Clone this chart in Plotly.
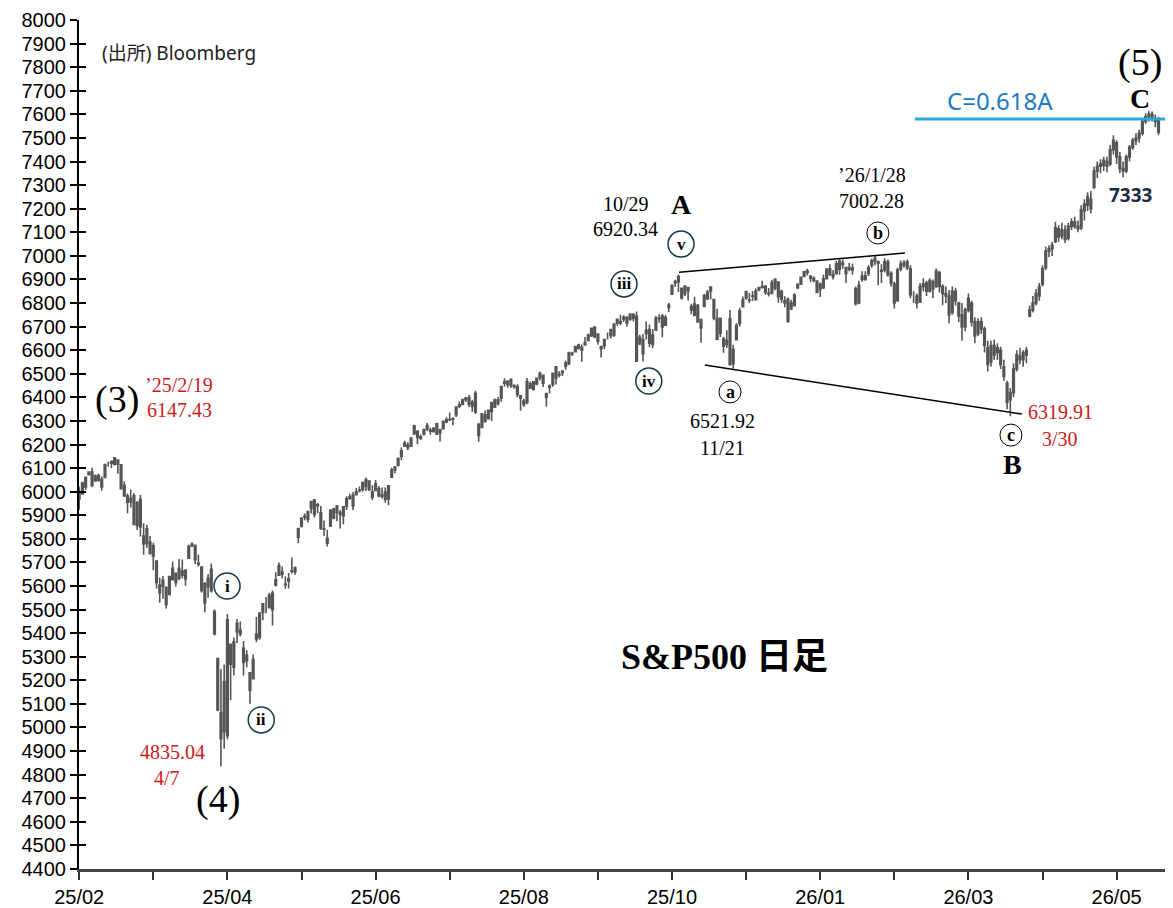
import plotly.graph_objects as go

# S&P500 daily bars, one value per trading day (2025/02/03 .. 2026/06)
opens = [
    # 2025/02
    5969, 5990, 6020, 6072, 6083, 6046, 6049, 6020, 6060, 6115, 6121, 6117, 6134, 6114, 6026, 5982, 5971, 5983, 5857,
    # 2025/03
    5968, 5812, 5781, 5786, 5726, 5706, 5604, 5624, 5594, 5564, 5627, 5654, 5632, 5646, 5630, 5718, 5771, 5772, 5696, 5679, 5528,
    # 2025/04
    5597, 5580, 5492, 5292, 4953, 5194, 4965, 5353, 5256, 5442, 5412, 5336, 5306, 5232, 5207, 5395, 5382, 5489, 5529, 5508, 5499,
    # 2025/05
    5626, 5646, 5659, 5606, 5621, 5663, 5677, 5807, 5854, 5896, 5883, 5929, 5903, 5944, 5910, 5841, 5782, 5855, 5926, 5939, 5903,
    # 2025/06
    5897, 5938, 5978, 5985, 5987, 6005, 6009, 6050, 6010, 5999, 6005, 6012, 5987, 5999, 5969, 6061, 6104, 6112, 6151, 6193,
    # 2025/07
    6187, 6193, 6246, 6255, 6233, 6245, 6266, 6256, 6255, 6288, 6250, 6269, 6305, 6305, 6307, 6326, 6368, 6370, 6397, 6398, 6379, 6417,
    # 2025/08
    6287, 6272, 6326, 6309, 6378, 6359, 6390, 6397, 6460, 6455, 6475, 6445, 6446, 6407, 6384, 6378, 6457, 6434, 6457, 6483, 6494,
    # 2025/09
    6401, 6443, 6456, 6529, 6498, 6506, 6545, 6543, 6587, 6594, 6622, 6612, 6623, 6641, 6662, 6698, 6669, 6615, 6619, 6661, 6661,
    # 2025/10
    6663, 6731, 6722, 6733, 6740, 6729, 6751, 6744, 6628, 6585, 6684, 6688, 6624, 6685, 6736, 6745, 6706, 6781, 6838, 6885, 6911, 6863, 6872,
    # 2025/11
    6866, 6785, 6747, 6789, 6694, 6786, 6818, 6868, 6815, 6647, 6735, 6647, 6625, 6733, 6543, 6645, 6712, 6785, 6822,
    # 2025/12
    6813, 6830, 6815, 6866, 6866, 6872, 6841, 6843, 6863, 6889, 6850, 6809, 6816, 6800, 6789, 6865, 6880, 6913, 6936, 6913, 6905, 6893,
    # 2026/01
    6880, 6865, 6903, 6945, 6912, 6925, 6944, 6970, 6950, 6950, 6948, 6860, 6800, 6900, 6900, 6925, 6960, 6990, 6975, 6935,
    # 2026/02
    6940, 6975, 6925, 6880, 6810, 6945, 6960, 6975, 6945, 6830, 6830, 6805, 6870, 6885, 6850, 6890, 6870, 6930, 6870,
    # 2026/03
    6840, 6830, 6760, 6850, 6800, 6750, 6700, 6770, 6800, 6720, 6670, 6720, 6690, 6610, 6550, 6620, 6590, 6600, 6530, 6460, 6390, 6420,
    # 2026/04
    6520, 6575, 6560, 6580, 6745, 6770, 6800, 6830, 6880, 6950, 7020, 7030, 7060, 7115, 7085, 7110, 7075, 7125, 7145, 7125, 7120,
    # 2026/05 - 06
    7190, 7215, 7240, 7290, 7360, 7380, 7385, 7400, 7390, 7450, 7480, 7420, 7370, 7360, 7420, 7460, 7490, 7500, 7520, 7570,
    7590, 7600, 7580, 7575,
]

highs = [
    6022, 6042, 6062, 6084, 6101, 6073, 6076, 6064, 6117, 6127, 6129, 6147, 6134, 6115, 6044, 5992, 6009, 5994, 5959,
    5986, 5866, 5860, 5812, 5783, 5706, 5636, 5642, 5597, 5645, 5704, 5654, 5715, 5712, 5670, 5775, 5786, 5776, 5733, 5685, 5616,
    5651, 5695, 5500, 5292, 5247, 5267, 5481, 5353, 5382, 5460, 5450, 5367, 5328, 5233, 5310, 5469, 5489, 5528, 5553, 5571, 5581,
    5658, 5700, 5683, 5641, 5655, 5721, 5683, 5845, 5893, 5907, 5917, 5959, 5969, 5953, 5939, 5878, 5839, 5925, 5931, 5944, 5922,
    5937, 5981, 5991, 5999, 6016, 6022, 6043, 6060, 6045, 6027, 6050, 6024, 6018, 6018, 6028, 6101, 6109, 6146, 6187, 6216,
    6210, 6227, 6284, 6262, 6243, 6265, 6291, 6272, 6273, 6292, 6266, 6302, 6316, 6336, 6316, 6360, 6382, 6395, 6402, 6410, 6390, 6428,
    6288, 6330, 6344, 6349, 6379, 6395, 6402, 6446, 6481, 6472, 6481, 6456, 6456, 6407, 6394, 6482, 6466, 6468, 6483, 6509, 6494,
    6416, 6455, 6502, 6533, 6511, 6513, 6555, 6593, 6593, 6619, 6627, 6624, 6656, 6671, 6694, 6700, 6670, 6618, 6650, 6675, 6689,
    6712, 6731, 6750, 6748, 6744, 6754, 6757, 6764, 6666, 6669, 6722, 6709, 6690, 6745, 6752, 6754, 6749, 6800, 6876, 6899, 6920, 6864, 6874,
    6866, 6797, 6827, 6796, 6734, 6838, 6855, 6870, 6815, 6776, 6737, 6657, 6685, 6770, 6623, 6714, 6780, 6828, 6850,
    6843, 6851, 6862, 6867, 6895, 6875, 6864, 6899, 6905, 6891, 6856, 6829, 6824, 6814, 6842, 6884, 6912, 6937, 6945, 6918, 6913, 6895,
    6887, 6920, 6946, 6965, 6940, 6978, 6986, 6985, 6950, 6970, 6967, 6870, 6895, 6935, 6935, 6960, 6988, 7002, 6980, 6965,
    6990, 6985, 6935, 6890, 6950, 6980, 6982, 6985, 6960, 6850, 6840, 6885, 6905, 6895, 6905, 6900, 6947, 6935, 6880,
    6870, 6855, 6870, 6865, 6805, 6800, 6780, 6840, 6810, 6740, 6735, 6740, 6700, 6640, 6640, 6645, 6630, 6615, 6560, 6470, 6440, 6545,
    6600, 6610, 6600, 6615, 6790, 6830, 6860, 6885, 6960, 7040, 7045, 7060, 7145, 7130, 7140, 7130, 7140, 7160, 7166, 7150, 7215,
    7240, 7270, 7275, 7378, 7400, 7410, 7420, 7420, 7470, 7512, 7490, 7440, 7400, 7430, 7470, 7500, 7520, 7535, 7580, 7605,
    7615, 7612, 7600, 7590,
]

lows = [
    5923, 5990, 6007, 6070, 6020, 6044, 6042, 6004, 6060, 6106, 6100, 6111, 6076, 6009, 5977, 5909, 5933, 5858, 5837,
    5810, 5733, 5762, 5733, 5667, 5589, 5529, 5546, 5505, 5564, 5625, 5598, 5624, 5633, 5601, 5718, 5764, 5693, 5683, 5572, 5489,
    5550, 5572, 5391, 5069, 4835, 4910, 4950, 5116, 5221, 5358, 5386, 5220, 5256, 5101, 5207, 5362, 5372, 5455, 5484, 5505, 5433,
    5598, 5647, 5632, 5588, 5589, 5653, 5648, 5782, 5848, 5878, 5869, 5908, 5890, 5909, 5838, 5812, 5768, 5850, 5883, 5875, 5844,
    5862, 5922, 5966, 5921, 5987, 5997, 6000, 6003, 6003, 5964, 6005, 5976, 5971, 5953, 5943, 6060, 6078, 6107, 6133, 6193,
    6177, 6189, 6240, 6201, 6220, 6238, 6257, 6241, 6250, 6243, 6213, 6262, 6290, 6300, 6282, 6317, 6354, 6369, 6380, 6359, 6339, 6329,
    6212, 6272, 6292, 6309, 6300, 6355, 6365, 6381, 6445, 6441, 6441, 6437, 6401, 6343, 6360, 6371, 6438, 6429, 6451, 6471, 6444,
    6361, 6416, 6445, 6455, 6485, 6491, 6517, 6537, 6575, 6594, 6603, 6551, 6619, 6639, 6656, 6651, 6623, 6569, 6605, 6645, 6650,
    6657, 6704, 6706, 6720, 6699, 6728, 6722, 6551, 6621, 6552, 6645, 6613, 6608, 6685, 6716, 6655, 6703, 6762, 6838, 6868, 6847, 6815, 6830,
    6811, 6752, 6747, 6718, 6632, 6786, 6813, 6815, 6727, 6647, 6656, 6589, 6609, 6535, 6522, 6645, 6701, 6783, 6814,
    6800, 6809, 6810, 6850, 6862, 6834, 6828, 6836, 6854, 6801, 6801, 6782, 6720, 6770, 6786, 6860, 6877, 6910, 6917, 6888, 6888, 6844,
    6826, 6860, 6900, 6915, 6900, 6920, 6920, 6945, 6885, 6935, 6920, 6790, 6795, 6890, 6895, 6915, 6950, 6960, 6875, 6885,
    6930, 6912, 6870, 6777, 6805, 6935, 6950, 6940, 6820, 6800, 6777, 6800, 6850, 6830, 6845, 6820, 6865, 6845, 6791,
    6800, 6714, 6750, 6790, 6720, 6640, 6680, 6760, 6700, 6630, 6660, 6670, 6590, 6510, 6530, 6560, 6560, 6520, 6470, 6350, 6320, 6400,
    6510, 6540, 6530, 6545, 6740, 6760, 6790, 6810, 6870, 6940, 6995, 7000, 7055, 7060, 7070, 7055, 7065, 7110, 7115, 7100, 7110,
    7150, 7190, 7180, 7285, 7330, 7350, 7360, 7355, 7380, 7430, 7390, 7350, 7333, 7350, 7400, 7450, 7470, 7480, 7510, 7560,
    7570, 7570, 7545, 7512,
]

closes = [
    5994, 6037, 6061, 6083, 6026, 6066, 6068, 6052, 6115, 6115, 6129, 6144, 6117, 6013, 5983, 5955, 5956, 5861, 5955,
    5850, 5778, 5843, 5739, 5770, 5615, 5572, 5599, 5522, 5639, 5675, 5615, 5675, 5663, 5668, 5768, 5777, 5712, 5693, 5581, 5612,
    5633, 5671, 5397, 5074, 5062, 4982, 5457, 5268, 5363, 5406, 5397, 5276, 5283, 5158, 5288, 5376, 5485, 5525, 5529, 5561, 5569,
    5604, 5687, 5650, 5607, 5631, 5664, 5660, 5844, 5886, 5892, 5916, 5958, 5964, 5941, 5845, 5842, 5802, 5922, 5889, 5912, 5912,
    5936, 5970, 5971, 5939, 6000, 6006, 6039, 6022, 6045, 5977, 6033, 5983, 5981, 5967, 6025, 6092, 6092, 6141, 6173, 6205,
    6198, 6227, 6279, 6230, 6226, 6263, 6280, 6260, 6269, 6244, 6264, 6297, 6297, 6306, 6309, 6359, 6363, 6389, 6390, 6371, 6362, 6339,
    6238, 6330, 6299, 6345, 6340, 6389, 6374, 6446, 6466, 6469, 6450, 6449, 6412, 6396, 6370, 6467, 6439, 6466, 6481, 6502, 6460,
    6416, 6448, 6502, 6482, 6495, 6512, 6532, 6588, 6584, 6615, 6607, 6600, 6632, 6664, 6693, 6657, 6638, 6605, 6644, 6661, 6688,
    6711, 6715, 6716, 6740, 6714, 6753, 6735, 6553, 6655, 6644, 6671, 6630, 6664, 6735, 6735, 6699, 6738, 6792, 6875, 6891, 6890, 6822, 6840,
    6852, 6771, 6796, 6720, 6729, 6832, 6846, 6851, 6737, 6734, 6672, 6617, 6642, 6538, 6603, 6705, 6766, 6813, 6849,
    6812, 6829, 6850, 6857, 6870, 6846, 6840, 6887, 6901, 6827, 6816, 6800, 6721, 6775, 6834, 6878, 6909, 6932, 6930, 6905, 6896, 6845,
    6858, 6902, 6944, 6921, 6921, 6966, 6977, 6964, 6926, 6944, 6940, 6797, 6875, 6913, 6916, 6950, 6979, 6978, 6969, 6939,
    6975, 6920, 6885, 6800, 6940, 6965, 6970, 6950, 6835, 6830, 6800, 6870, 6880, 6850, 6895, 6860, 6935, 6870, 6840,
    6830, 6750, 6850, 6810, 6745, 6700, 6770, 6820, 6720, 6660, 6720, 6690, 6620, 6540, 6620, 6580, 6610, 6540, 6490, 6380, 6420, 6520,
    6580, 6560, 6590, 6600, 6770, 6800, 6840, 6870, 6945, 7020, 7030, 7045, 7120, 7080, 7110, 7070, 7125, 7145, 7125, 7115, 7195,
    7220, 7250, 7200, 7360, 7380, 7390, 7405, 7380, 7450, 7490, 7420, 7370, 7360, 7420, 7460, 7490, 7500, 7520, 7570, 7590,
    7600, 7580, 7570, 7525,
]

tick_labels = ['25/02', '25/04', '25/06', '25/08', '25/10', '26/01', '26/03', '26/05']
TICK_EVERY = 46          # trading days between labelled ticks
c_target = 7580          # C=0.618A level

# wave trend lines: (day index, level) pairs
upper_line = [(186.2, 6931), (256.3, 7012)]
lower_line = [(194.2, 6537), (292.6, 6329)]

bar_color = '#555555'
red = '#cc1a1a'
navy = '#15394d'
serif = 'Liberation Serif, Noto Sans CJK JP'
sans = 'Noto Sans, Noto Sans CJK JP'
axis_font = 'Liberation Sans, Arial, sans-serif'

days = list(range(len(closes)))

fig = go.Figure()
fig.add_trace(go.Candlestick(
    x=days, open=opens, high=highs, low=lows, close=closes,
    increasing=dict(line=dict(color=bar_color, width=1.6), fillcolor=bar_color),
    decreasing=dict(line=dict(color=bar_color, width=1.6), fillcolor=bar_color),
    whiskerwidth=0,
    showlegend=False,
    hoverinfo='skip',
))
# dummy trace so the inner tick axis is drawn
fig.add_trace(go.Scatter(x=[None], y=[None], yaxis='y2', showlegend=False, hoverinfo='skip'))


def label(x, y, text, size=20, color='black', family=serif, bold=False):
    if bold:
        text = '<b>' + text + '</b>'
    fig.add_annotation(x=x, y=y, text=text, showarrow=False,
                       font=dict(size=size, color=color, family=family))


def circled(x, y, text, r=13, color=navy, width=1.5, size=17):
    fig.add_shape(type='circle', xref='x', yref='y',
                  xsizemode='pixel', ysizemode='pixel',
                  xanchor=x, yanchor=y, x0=-r, x1=r, y0=-r, y1=r,
                  line=dict(color=color, width=width))
    label(x, y, text, size=size, bold=True)


# wave labels
label(11.7, 6389, '(3)', size=38)
label(31.0, 6452, '’25/2/19', color=red)
label(31.0, 6346, '6147.43', color=red)
label(29.1, 4896, '4835.04', color=red)
label(27.3, 4786, '4/7', color=red)
label(43.1, 4693, '(4)', size=38)

circled(45.9, 5600, 'i')
circled(56.5, 5032, 'ii')
circled(169.1, 6881, 'iii')
circled(176.8, 6469, 'iv')
circled(186.8, 7050, 'v')

label(169.7, 7220, '10/29')
label(169.7, 7114, '6920.34')
label(186.8, 7216, 'A', size=28, bold=True)

label(246, 7343, '’26/1/28')
label(246, 7233, '7002.28')
circled(247.9, 7097, 'b', r=11, color='black', width=1, size=18)

circled(202, 6423, 'a', r=11, color='black', width=1, size=18)
label(199.8, 6300, '6521.92')
label(199.8, 6185, '11/21')

circled(289.2, 6240, 'c', r=11, color='black', width=1, size=18)
label(289.8, 6117, 'B', size=28, bold=True)
label(304.7, 6338, '6319.91', color=red)
label(304.4, 6224, '3/30', color=red)

label(329.2, 7818, '(5)', size=38)
label(329.2, 7668, 'C', size=28, bold=True)
label(285.8, 7661, 'C=0.618A', size=24, color='#1a7ac4', family=sans)
label(326.4, 7258, '7333', size=19, color='#1b2a3d', family=sans, bold=True)

label(200.4, 5299, 'S&amp;P500 日足', size=36, bold=True)

fig.add_annotation(xref='paper', yref='paper', x=0.019, y=0.961,
                   xanchor='left', yanchor='middle',
                   text='(出所) Bloomberg', showarrow=False,
                   font=dict(size=19, color='#222', family=sans))

# trend lines and target level
for pts in (upper_line, lower_line):
    fig.add_shape(type='line', xref='x', yref='y',
                  x0=pts[0][0], y0=pts[0][1], x1=pts[1][0], y1=pts[1][1],
                  line=dict(color='black', width=1.5))
fig.add_shape(type='line', xref='x', yref='y', x0=259.4, x1=339.5,
              y0=c_target, y1=c_target, line=dict(color='#29a8e0', width=3))

tickvals = [k * TICK_EVERY for k in range(len(tick_labels))]
minorvals = [k * TICK_EVERY + TICK_EVERY / 2 for k in range(len(tick_labels))]

# the page adds an 8px body margin, so the figure is 8px smaller than the window
fig.update_layout(
    width=1165, height=900,
    paper_bgcolor='white', plot_bgcolor='white',
    margin=dict(l=71, r=0, t=12, b=39, autoexpand=False),
    font=dict(family=axis_font, size=20, color='black'),
    xaxis=dict(
        range=[-0.06, 339.5], rangeslider=dict(visible=False),
        tickmode='array', tickvals=tickvals, ticktext=tick_labels,
        ticks='outside', ticklen=8, tickwidth=2, tickcolor='#333',
        minor=dict(tickmode='array', tickvals=minorvals, ticks='outside',
                   ticklen=8, tickwidth=2, tickcolor='#333'),
        showline=True, linecolor='#444', linewidth=3,
        showgrid=False, zeroline=False, fixedrange=True, automargin=False,
        tickfont=dict(size=20, family=axis_font),
    ),
    yaxis=dict(
        range=[4399.9, 8000.3], dtick=100, tick0=4400,
        ticks='outside', ticklen=7, tickwidth=2, tickcolor='black',
        showline=True, linecolor='black', linewidth=2,
        showgrid=False, zeroline=False, fixedrange=True, automargin=False,
        ticklabeloverflow='allow',
        tickfont=dict(size=20, family=axis_font),
    ),
    yaxis2=dict(
        overlaying='y', side='left', range=[4399.9, 8000.3], dtick=100, tick0=4400,
        ticks='inside', ticklen=7, tickwidth=2, tickcolor='black',
        showticklabels=False, showline=False, showgrid=False, zeroline=False,
        fixedrange=True, automargin=False,
    ),
)

fig.write_html('out.html')
